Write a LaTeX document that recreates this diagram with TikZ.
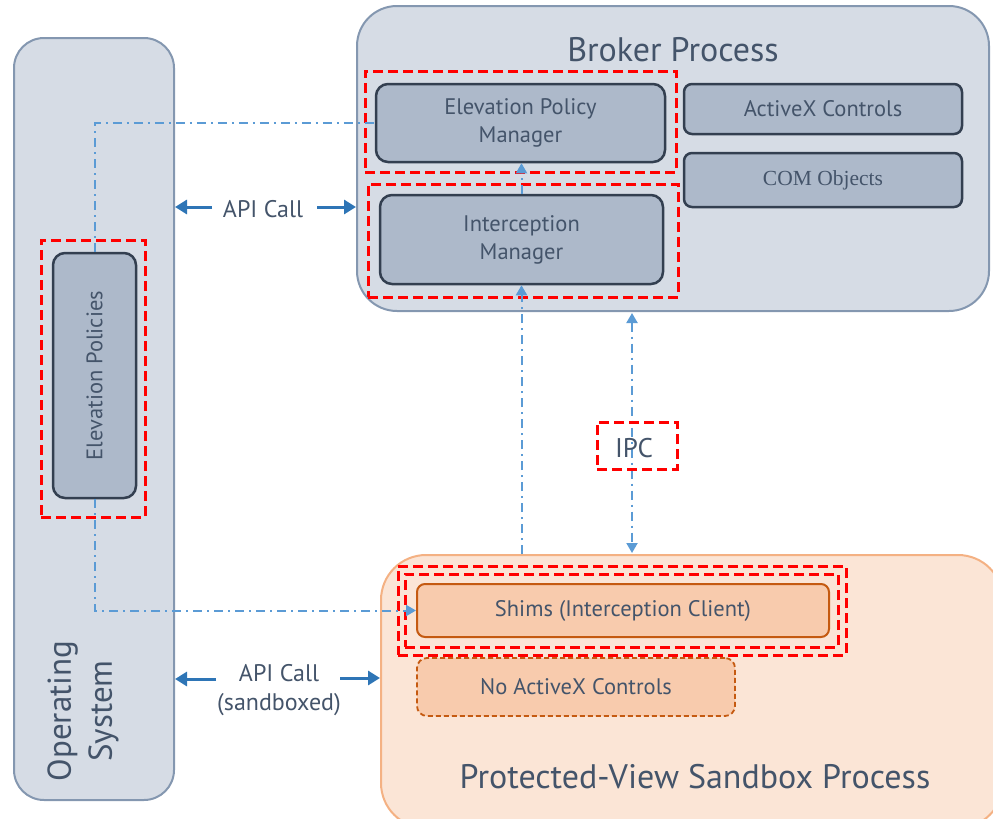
\documentclass[tikz,border=0pt]{standalone}
\usepackage{fontspec}
\setmainfont{PT Sans}
\newfontfamily\seriffont{Liberation Serif}
\usetikzlibrary{arrows.meta}
\definecolor{paneFill}{HTML}{D6DCE5}
\definecolor{paneLine}{HTML}{8497B0}
\definecolor{modFill}{HTML}{ADB9CA}
\definecolor{modLine}{HTML}{333F50}
\definecolor{sandFill}{HTML}{FBE5D6}
\definecolor{sandLine}{HTML}{F4B183}
\definecolor{shimFill}{HTML}{F8CBAD}
\definecolor{shimLine}{HTML}{C55A11}
\definecolor{txt}{HTML}{44546A}
\definecolor{flow}{HTML}{5B9BD5}
\definecolor{api}{HTML}{2E75B6}
\tikzset{
  pane/.style={draw=paneLine, fill=paneFill, line width=2pt, rounded corners=30pt},
  module/.style={draw=modLine, fill=modFill, line width=2.5pt, rounded corners=12pt,
    text=txt, align=center, inner sep=0pt, font=\fontsize{22.5}{28}\selectfont},
  hilite/.style={draw=red, line width=3pt, dash pattern=on 10pt off 5pt, inner sep=0pt},
  flowline/.style={draw=flow, line width=2pt, dash pattern=on 9pt off 5pt on 2pt off 5pt},
  flowtip/.style={-{Triangle[length=10pt,width=11pt]}},
  apiarrow/.style={draw=api, line width=3pt, -{Triangle[length=12pt,width=14pt]}},
  lbl/.style={text=txt, align=center, inner sep=0pt}
}
\begin{document}
\begin{tikzpicture}[x=1pt,y=-1pt]
\useasboundingbox (0,0) rectangle (993,819);
\clip (0,0) rectangle (993,819);

% --- process containers ---
\node[pane, minimum width=160pt, minimum height=762pt] (os) at (94,419) {};
\node[pane, rounded corners=40pt, minimum width=632pt, minimum height=305pt] (broker) at (673,158.5) {};
\node[pane, draw=sandLine, fill=sandFill, rounded corners=45pt, minimum width=622pt, minimum height=273pt] (sandbox) at (692,691.5) {};

\node[lbl, font=\fontsize{34}{40}\selectfont] (brokertitle) at (673,50) {Broker Process};
\node[lbl, font=\fontsize{34}{40}\selectfont] (sandtitle) at (695,777) {Protected-View Sandbox Process};
\node[lbl, rotate=90, font=\fontsize{33}{41}\selectfont] (ostitle) at (83,711) {Operating\\System};

% --- broker modules ---
\node[module, minimum width=289pt, minimum height=78pt] (epm) at (520.5,123) {Elevation Policy\\Manager};
\node[module, minimum width=283pt, minimum height=89pt] (im) at (521.5,239.5) {Interception\\Manager};
\node[module, rounded corners=8pt, minimum width=278pt, minimum height=50pt] (activex) at (823,109) {ActiveX Controls};
\node[module, rounded corners=8pt, minimum width=278pt, minimum height=54pt, font=\seriffont\fontsize{21.5}{26}\selectfont] (com) at (823,180) {COM Objects};

% --- operating system module ---
\node[module, rounded corners=12pt, minimum width=83pt, minimum height=245pt] (policies) at (94.5,375.5) {};
\node[lbl, rotate=90, font=\fontsize{22.5}{26}\selectfont] at (policies.center) {Elevation Policies};

% --- sandbox modules ---
\node[module, draw=shimLine, fill=shimFill, line width=2pt, rounded corners=8pt,
  minimum width=412pt, minimum height=53pt] (shims) at (623,610.5) {Shims (Interception Client)};
\node[module, draw=shimLine, fill=shimFill, line width=1.8pt, dash pattern=on 5pt off 3pt, rounded corners=10pt,
  minimum width=318pt, minimum height=58pt] (noax) at (576,687) {No ActiveX Controls};

% --- highlight frames ---
\node[hilite, minimum width=311pt, minimum height=101pt] (hlepm) at (520.5,121.5) {};
\node[hilite, minimum width=310pt, minimum height=113pt] (hlim) at (523,240.5) {};
\node[hilite, minimum width=104pt, minimum height=277pt] (hlpol) at (93,378.5) {};
\node[hilite, minimum width=448pt, minimum height=89pt] (hlshimout) at (622,610.5) {};
\node[hilite, minimum width=433pt, minimum height=73pt] (hlshimin) at (621.5,610.5) {};

% --- IPC channel ---
\coordinate (ipctop) at (632,313);
\coordinate (ipcbot) at (632,553);
\draw[flowline, {Triangle[length=10pt,width=11pt]}-{Triangle[length=10pt,width=11pt]}] (ipctop) -- (ipcbot);
\node[hilite, minimum width=80pt, minimum height=47pt] (ipcbox) at (637,445.5) {};
\node[lbl, font=\fontsize{27}{30}\selectfont] (ipc) at (634,448) {IPC};

% --- policy flow ---
\draw[flowline] (policies.north) |- (epm.west);
\draw[flowline, flowtip] (policies.south) |- (shims.west);
\draw[flowline, flowtip] (sandbox.north -| im.south) -- (im.south);
\draw[flowline, flowtip] (im.north) -- (im.north |- epm.south);

% --- API calls ---
\node[lbl, font=\fontsize{24}{28}\selectfont] (apicall) at (263,209) {API Call};
\coordinate (apiL) at (212,207);
\coordinate (apiR) at (317,207);
\draw[apiarrow] (apiL) -- (os.east |- apiL);
\draw[apiarrow] (apiR) -- (broker.west |- apiR);
\node[lbl, font=\fontsize{24}{29}\selectfont] (apisand) at (279,690) {API Call\\(sandboxed)};
\coordinate (sbL) at (216,679);
\coordinate (sbR) at (340,678);
\draw[apiarrow] (sbL) -- (os.east |- sbL);
\draw[apiarrow] (sbR) -- (sandbox.west |- sbR);
\end{tikzpicture}
\end{document}
